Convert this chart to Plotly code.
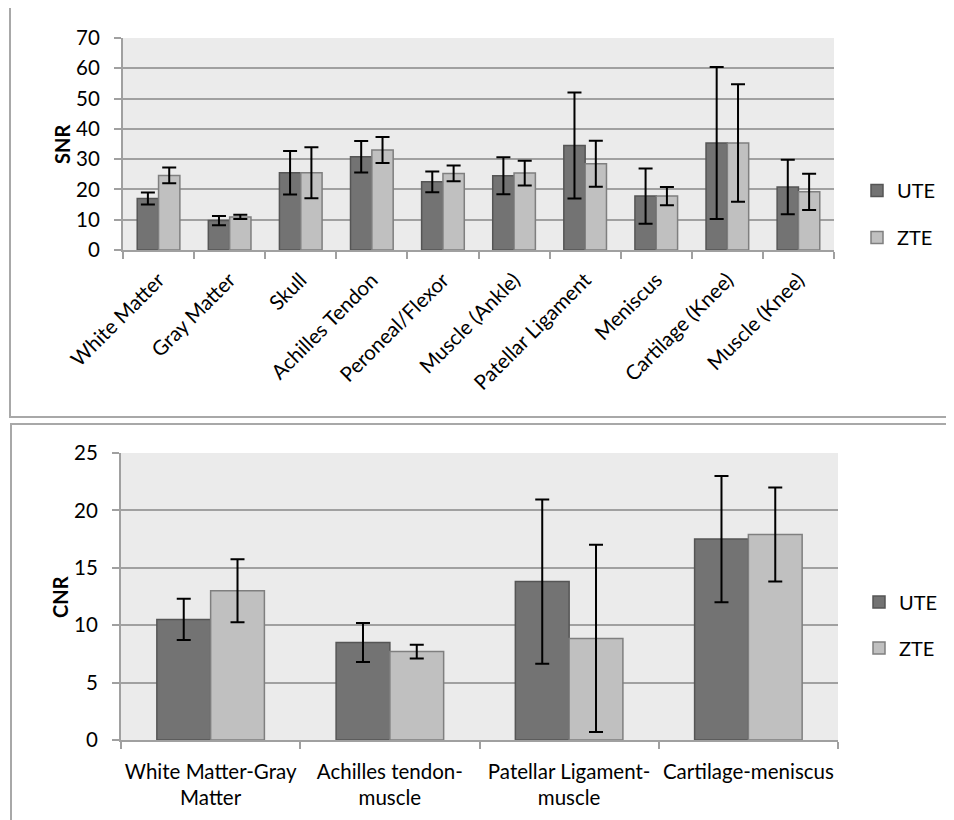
import plotly.graph_objects as go

# page body adds an 8px margin, so the figure is drawn 8px in from the window edge
OFF = 8
W, H = 954 - OFF, 820 - OFF

# ---------------- data ----------------
snr_categories = ["White Matter", "Gray Matter", "Skull", "Achilles Tendon", "Peroneal/Flexor",
                  "Muscle (Ankle)", "Patellar Ligament", "Meniscus", "Cartilage (Knee)", "Muscle (Knee)"]
snr_ute = [17.0, 9.7, 25.5, 30.8, 22.5, 24.5, 34.5, 17.8, 35.3, 20.8]
snr_ute_err = [2.0, 1.5, 7.2, 5.2, 3.4, 6.1, 17.5, 9.1, 25.1, 9.0]
snr_zte = [24.6, 10.9, 25.5, 33.0, 25.3, 25.4, 28.5, 17.8, 35.3, 19.2]
snr_zte_err = [2.6, 0.7, 8.4, 4.3, 2.6, 4.1, 7.6, 3.0, 19.4, 6.0]
snr_ticks = [0, 10, 20, 30, 40, 50, 60, 70]

cnr_categories = ["White Matter-Gray Matter", "Achilles tendon-muscle",
                  "Patellar Ligament-muscle", "Cartilage-meniscus"]
cnr_tick_labels = ["White Matter-Gray<br>Matter", "Achilles tendon-<br>muscle",
                   "Patellar Ligament-<br>muscle", "Cartilage-meniscus"]
cnr_ute = [10.5, 8.5, 13.8, 17.5]
cnr_ute_err = [1.8, 1.7, 7.15, 5.5]
cnr_zte = [13.0, 7.7, 8.85, 17.9]
cnr_zte_err = [2.75, 0.6, 8.15, 4.1]
cnr_ticks = [0, 5, 10, 15, 20, 25]

series_names = ["UTE", "ZTE"]

# ---------------- style ----------------
FONT = "Lato, 'Liberation Sans', sans-serif"
UTE_FILL, UTE_LINE = "#737373", "#555555"
ZTE_FILL, ZTE_LINE = "#c0c0c0", "#7f7f7f"
GRID = "#a0a0a0"
PLOTBG = "#ebebeb"


def px_x(p):
    return (p - OFF) / W


def px_y(p):
    return 1 - (p - OFF) / H


fig = go.Figure()


def add_bars(cats, vals, errs, name, fill, line, xa, ya, legend):
    fig.add_trace(go.Bar(
        x=cats, y=vals, name=name, legendgroup=legend + name, legend=legend,
        xaxis=xa, yaxis=ya,
        marker=dict(color=fill, line=dict(color=line, width=1.5)),
        error_y=dict(type="data", array=errs, visible=True, color="black",
                     thickness=2, width=7),
        hoverinfo="x+y+name",
    ))


add_bars(snr_categories, snr_ute, snr_ute_err, series_names[0], UTE_FILL, UTE_LINE, "x", "y", "legend")
add_bars(snr_categories, snr_zte, snr_zte_err, series_names[1], ZTE_FILL, ZTE_LINE, "x", "y", "legend")
add_bars(cnr_categories, cnr_ute, cnr_ute_err, series_names[0], UTE_FILL, UTE_LINE, "x2", "y2", "legend2")
add_bars(cnr_categories, cnr_zte, cnr_zte_err, series_names[1], ZTE_FILL, ZTE_LINE, "x2", "y2", "legend2")

axis_common = dict(showline=True, linecolor=GRID, linewidth=2, ticks="outside",
                   tickcolor=GRID, tickwidth=2, ticklen=7, automargin=False,
                   tickfont=dict(family=FONT, size=20.5, color="#000"), fixedrange=True)

fig.update_layout(
    width=W, height=H, template="none",
    margin=dict(l=0, r=0, t=0, b=0),
    paper_bgcolor="white", plot_bgcolor=PLOTBG,
    barmode="group", bargap=0.4, bargroupgap=0,
    font=dict(family=FONT, size=20, color="#000"),
    xaxis=dict(domain=[px_x(123), px_x(834)], anchor="y", tickson="boundaries",
               tickangle=-45, showgrid=False, ticklabelstandoff=8, **axis_common),
    yaxis=dict(domain=[px_y(250), px_y(38)], anchor="x", range=[0, 70],
               tickvals=snr_ticks, showgrid=True, gridcolor=GRID, gridwidth=2,
               ticklabelstandoff=10, zeroline=False, **axis_common),
    xaxis2=dict(domain=[px_x(121), px_x(838)], anchor="y2", tickson="boundaries",
                tickvals=cnr_categories, ticktext=cnr_tick_labels, tickangle=0,
                showgrid=False, ticklabelstandoff=12, **axis_common),
    yaxis2=dict(domain=[px_y(740), px_y(453)], anchor="x2", range=[0, 25],
                tickvals=cnr_ticks, showgrid=True, gridcolor=GRID, gridwidth=2,
                ticklabelstandoff=10, zeroline=False, **axis_common),
    legend=dict(x=px_x(857), xanchor="left", y=px_y(214), yanchor="middle",
                bgcolor="rgba(0,0,0,0)", font=dict(family=FONT, size=20),
                tracegroupgap=18, traceorder="grouped"),
    legend2=dict(x=px_x(859), xanchor="left", y=px_y(625), yanchor="middle",
                 bgcolor="rgba(0,0,0,0)", font=dict(family=FONT, size=20),
                 tracegroupgap=17, traceorder="grouped"),
)

# panel borders
fig.add_shape(type="rect", xref="paper", yref="paper",
              x0=px_x(10), x1=px_x(970), y0=px_y(417), y1=px_y(7),
              line=dict(color="#a8a8a8", width=2), fillcolor="rgba(0,0,0,0)", layer="below")
fig.add_shape(type="rect", xref="paper", yref="paper",
              x0=px_x(11), x1=px_x(970), y0=px_y(840), y1=px_y(424),
              line=dict(color="#a8a8a8", width=2), fillcolor="rgba(0,0,0,0)", layer="below")

# axis titles
fig.add_annotation(text="<b>SNR</b>", xref="paper", yref="paper", x=px_x(62), y=px_y(145),
                   xanchor="center", yanchor="middle",
                   textangle=-90, showarrow=False, font=dict(family=FONT, size=20))
fig.add_annotation(text="<b>CNR</b>", xref="paper", yref="paper", x=px_x(60), y=px_y(597),
                   xanchor="center", yanchor="middle",
                   textangle=-90, showarrow=False, font=dict(family=FONT, size=20))

fig.write_html("out.html")
